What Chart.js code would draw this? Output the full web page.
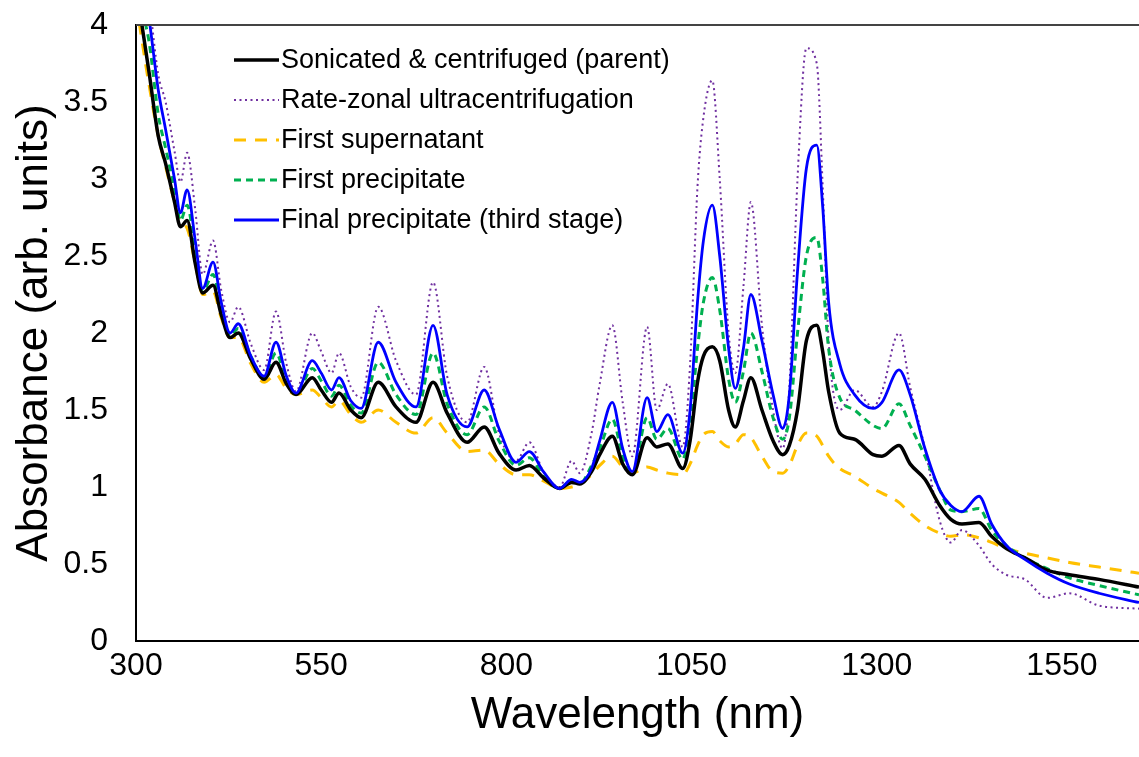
<!DOCTYPE html>
<html>
<head>
<meta charset="utf-8">
<script src="https://cdn.jsdelivr.net/npm/chart.js@4"></script>
<style>
  html, body { margin: 0; padding: 0; background: #fff; }
  #wrap { width: 1139px; height: 757px; }
</style>
</head>
<body>
<div id="wrap"><canvas id="chartSpectra" width="1139" height="757"></canvas></div>
<script>
// wavelength grid (nm)
let wavelength = [
  300, 308, 318, 330, 340, 352, 360, 369, 380, 390, 404, 415, 427, 438,
  455, 473, 489, 503, 516, 538, 550, 564, 574, 590, 604, 627, 651, 678, 701, 720,
  747, 770, 790, 813, 831, 850, 872, 888, 899, 915, 926, 943, 957, 970, 990, 1003, 1018,
  1038, 1048, 1058, 1066, 1078, 1088, 1100, 1109, 1120, 1130, 1145, 1160, 1173, 1182, 1193, 1205, 1219, 1227, 1235, 1250, 1270,
  1295, 1307, 1330, 1345, 1365, 1385, 1400, 1415, 1438, 1455, 1475, 1500, 1530, 1560, 1600, 1654,
];

let parent = [
  4.25, 4.0, 3.68, 3.28, 3.1, 2.85, 2.69, 2.73, 2.45, 2.26, 2.31, 2.12, 1.97, 2.0,
  1.83, 1.7, 1.81, 1.67, 1.6, 1.71, 1.63, 1.55, 1.61, 1.5, 1.45, 1.68, 1.52, 1.42, 1.68, 1.48,
  1.29, 1.39, 1.22, 1.11, 1.14, 1.06, 0.99, 1.03, 1.02, 1.1, 1.21, 1.33, 1.15, 1.08, 1.32, 1.26, 1.28,
  1.12, 1.3, 1.68, 1.85, 1.91, 1.82, 1.5, 1.39, 1.56, 1.71, 1.5, 1.3, 1.21, 1.27, 1.5, 1.95, 2.05, 1.88, 1.62, 1.35, 1.31,
  1.21, 1.2, 1.27, 1.15, 1.05, 0.88, 0.79, 0.76, 0.77, 0.68, 0.6, 0.54, 0.46, 0.43, 0.4, 0.35,
];

let rateZonal = [
  4.8, 4.5, 4.15, 3.68, 3.5, 3.18, 2.98, 3.17, 2.8, 2.38, 2.6, 2.28, 2.07, 2.17,
  1.93, 1.76, 2.14, 1.8, 1.62, 2.0, 1.88, 1.74, 1.87, 1.65, 1.58, 2.17, 1.82, 1.6, 2.33, 1.72,
  1.42, 1.78, 1.35, 1.17, 1.29, 1.1, 1.0, 1.17, 1.09, 1.35, 1.67, 2.05, 1.55, 1.2, 2.04, 1.5, 1.67,
  1.26, 1.8, 2.95, 3.4, 3.64, 3.0, 2.0, 1.74, 2.3, 2.85, 2.05, 1.5, 1.25, 1.65, 3.0, 3.85, 3.75, 2.95, 1.95, 1.5, 1.63,
  1.52, 1.62, 2.0, 1.65, 1.25, 0.78, 0.64, 0.72, 0.62, 0.5, 0.43, 0.4, 0.28, 0.31, 0.23, 0.21,
];

let firstSupernatant = [
  4.15, 3.9, 3.6, 3.28, 3.08, 2.85, 2.72, 2.68, 2.45, 2.25, 2.27, 2.1, 1.97, 1.97,
  1.8, 1.68, 1.73, 1.64, 1.6, 1.63, 1.58, 1.52, 1.56, 1.47, 1.42, 1.5, 1.42, 1.35, 1.45, 1.35,
  1.23, 1.24, 1.15, 1.08, 1.08, 1.04, 0.99, 1.0, 1.02, 1.08, 1.14, 1.2, 1.13, 1.09, 1.13, 1.11, 1.09,
  1.08, 1.15, 1.27, 1.34, 1.36, 1.3, 1.26, 1.28, 1.34, 1.32, 1.2, 1.1, 1.09, 1.14, 1.27, 1.35, 1.33, 1.27, 1.2, 1.12, 1.07,
  0.99, 0.96, 0.9, 0.83, 0.75, 0.7, 0.68, 0.69, 0.67, 0.64, 0.6, 0.57, 0.54, 0.51, 0.48, 0.44,
];

let firstPrecipitate = [
  4.4, 4.12, 3.88, 3.42, 3.2, 2.93, 2.73, 2.83, 2.53, 2.27, 2.38, 2.16, 1.98, 2.03,
  1.85, 1.71, 1.87, 1.69, 1.6, 1.77, 1.69, 1.59, 1.66, 1.53, 1.48, 1.81, 1.6, 1.47, 1.87, 1.54,
  1.34, 1.52, 1.3, 1.14, 1.19, 1.07, 0.99, 1.04, 1.02, 1.14, 1.25, 1.44, 1.2, 1.09, 1.45, 1.31, 1.38,
  1.18, 1.42, 1.9, 2.2, 2.36, 2.15, 1.7, 1.55, 1.75, 2.0, 1.75, 1.45, 1.31, 1.45, 2.0, 2.5, 2.62, 2.35, 1.9, 1.58, 1.5,
  1.4, 1.38, 1.54, 1.4, 1.2, 0.98, 0.85, 0.84, 0.86, 0.72, 0.62, 0.54, 0.47, 0.41, 0.36, 0.3,
];

let finalPrecipitate = [
  4.6, 4.35, 4.03, 3.58, 3.32, 3.0, 2.78, 2.93, 2.6, 2.29, 2.46, 2.2, 2.0, 2.06,
  1.85, 1.72, 1.94, 1.72, 1.61, 1.82, 1.74, 1.63, 1.71, 1.56, 1.51, 1.94, 1.68, 1.52, 2.05, 1.6,
  1.39, 1.63, 1.38, 1.16, 1.23, 1.1, 0.99, 1.05, 1.03, 1.12, 1.3, 1.55, 1.25, 1.1, 1.58, 1.36, 1.47,
  1.22, 1.5, 2.2, 2.6, 2.83, 2.5, 1.9, 1.64, 1.9, 2.25, 1.95, 1.6, 1.38, 1.6, 2.4, 3.07, 3.22, 2.82, 2.2, 1.8, 1.6,
  1.51, 1.55, 1.76, 1.6, 1.25, 0.98, 0.88, 0.84, 0.94, 0.76, 0.62, 0.53, 0.44, 0.37, 0.31, 0.25,
];

let xTicks = [300, 550, 800, 1050, 1300, 1550];
let yTicks = [0, 0.5, 1, 1.5, 2, 2.5, 3, 3.5, 4];

let fontFamily = "'Liberation Sans', Arial, sans-serif";

function toPoints(values) {
  return wavelength.map((w, i) => ({ x: w, y: values[i] }));
}

// legend drawn inside the plot, top left
let insideLegend = {
  id: "insideLegend",
  afterDraw(chart) {
    let ctx = chart.ctx;
    ctx.save();
    ctx.font = "27px " + fontFamily;
    ctx.textBaseline = "middle";
    ctx.fillStyle = "#000";
    chart.data.datasets.forEach((ds, i) => {
      let y = 60 + i * 40;
      ctx.beginPath();
      ctx.strokeStyle = ds.borderColor;
      ctx.lineWidth = ds.borderWidth;
      ctx.setLineDash(ds.borderDash || []);
      ctx.moveTo(234, y);
      ctx.lineTo(279, y);
      ctx.stroke();
      ctx.fillText(ds.label, 281, y + 1);
    });
    // top frame line
    let a = chart.chartArea;
    ctx.setLineDash([]);
    ctx.strokeStyle = "#444";
    ctx.lineWidth = 2;
    ctx.beginPath();
    ctx.moveTo(a.left, a.top);
    ctx.lineTo(a.right, a.top);
    ctx.stroke();
    ctx.restore();
  },
};

let lineBase = {
  fill: false,
  pointRadius: 0,
  cubicInterpolationMode: "monotone",
};

new Chart(document.getElementById("chartSpectra").getContext("2d"), {
  type: "line",
  data: {
    datasets: [
      { ...lineBase, label: "Sonicated & centrifuged (parent)", data: toPoints(parent), borderColor: "#000000", borderWidth: 3.5, order: 2 },
      { ...lineBase, label: "Rate-zonal ultracentrifugation", data: toPoints(rateZonal), borderColor: "#7030A0", borderWidth: 2, borderDash: [2, 3.5], order: 4 },
      { ...lineBase, label: "First supernatant", data: toPoints(firstSupernatant), borderColor: "#FFC000", borderWidth: 3, borderDash: [12, 9], order: 5 },
      { ...lineBase, label: "First precipitate", data: toPoints(firstPrecipitate), borderColor: "#00B050", borderWidth: 3, borderDash: [7, 5], order: 3 },
      { ...lineBase, label: "Final precipitate (third stage)", data: toPoints(finalPrecipitate), borderColor: "#0000FF", borderWidth: 2.8, order: 1 },
    ],
  },
  options: {
    responsive: false,
    animation: false,
    devicePixelRatio: 1,
    layout: { padding: { left: 0, right: 0, top: 25, bottom: 0 } },
    plugins: {
      legend: { display: false },
      tooltip: { enabled: false },
    },
    scales: {
      x: {
        type: "linear",
        min: 300,
        max: 1654,
        grid: { display: false, drawTicks: false },
        border: { display: true, color: "#000", width: 2 },
        afterBuildTicks: (scale) => {
          scale.ticks = xTicks.map((v) => ({ value: v }));
        },
        afterFit: (scale) => {
          scale.height = 116;
          scale.paddingRight = 0;
        },
        ticks: {
          padding: 6,
          color: "#000",
          font: { family: fontFamily, size: 32 },
          maxRotation: 0,
          callback: (v) => String(v),
        },
        title: {
          display: true,
          text: "Wavelength (nm)",
          color: "#000",
          font: { family: fontFamily, size: 44 },
          padding: { top: 0, bottom: 15 },
        },
      },
      y: {
        type: "linear",
        min: 0,
        max: 4,
        grid: { display: false, drawTicks: false },
        border: { display: true, color: "#000", width: 2 },
        afterBuildTicks: (scale) => {
          scale.ticks = yTicks.map((v) => ({ value: v }));
        },
        afterFit: (scale) => {
          scale.width = 136;
          // keep the plot top at the layout padding, labels may overhang
          scale.paddingTop = 0;
          scale.paddingBottom = 0;
        },
        ticks: {
          padding: 28,
          color: "#000",
          font: { family: fontFamily, size: 32 },
          callback: (v) => String(v),
        },
        title: {
          display: true,
          text: "Absorbance (arb. units)",
          color: "#000",
          font: { family: fontFamily, size: 44 },
          padding: { top: 8, bottom: 0 },
        },
      },
    },
  },
  plugins: [insideLegend],
});
</script>
</body>
</html>
